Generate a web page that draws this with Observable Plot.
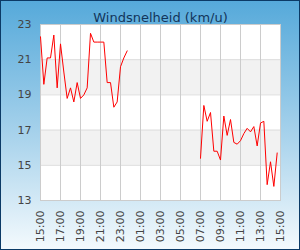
<!DOCTYPE html>
<html>
<head>
<meta charset="utf-8">
<script src="https://cdn.jsdelivr.net/npm/d3@7"></script>
<script src="https://cdn.jsdelivr.net/npm/@observablehq/plot@0.6"></script>
<style>
  html, body { margin: 0; padding: 0; }
  #wrap { position: relative; width: 300px; height: 250px; overflow: hidden;
    background: linear-gradient(to bottom, #55a9da 0%, #a9d3ec 55%, #f4fafd 100%); }
  #wrap svg { position: absolute; left: 0; top: 0; background: transparent; }
  #edge { position: absolute; left: 0; top: 0; width: 300px; height: 250px;
    box-sizing: border-box; border: 1px solid #0b3a66; pointer-events: none; }
</style>
</head>
<body>
<div id="wrap"><div id="edge"></div></div>
<script>
const title = "Windsnelheid (km/u)";
const xTickLabels = ["15:00","17:00","19:00","21:00","23:00","01:00","03:00","05:00","07:00","09:00","11:00","13:00","15:00"];
const yTicks = [13, 15, 17, 19, 21, 23];
const bandLow = [15, 19];
const bandHigh = [17, 21];

// readings every 20 minutes
const seg1Start = "2024-01-01T15:00Z";
const seg1Values = [22.3, 19.6, 21.1, 21.1, 22.4, 19.4, 21.9, 20.3, 18.8, 19.4,
  18.6, 19.7, 18.8, 19.0, 19.4, 22.5, 22.0, 22.0, 22.0, 22.0,
  19.7, 19.7, 18.3, 18.6, 20.6, 21.1, 21.5];
const seg2Start = "2024-01-02T07:00Z";
const seg2Values = [15.4, 18.4, 17.5, 18.0, 15.8, 15.8, 15.3, 17.8, 16.7, 17.6,
  16.3, 16.2, 16.4, 16.8, 17.1, 16.9, 17.2, 16.1, 17.4, 17.5,
  13.9, 15.2, 13.8, 15.7];

const step = 20 * 60 * 1000;
const rows = [];
[[seg1Start, seg1Values, 1], [seg2Start, seg2Values, 2]].forEach(([s, vals, seg]) => {
  const t0 = new Date(s).getTime();
  vals.forEach((v, i) => rows.push({t: new Date(t0 + i * step), v, seg}));
});

const domainStart = new Date("2024-01-01T15:00Z");
const tickDates = xTickLabels.map((_, i) => new Date(domainStart.getTime() + i * 2 * 3600 * 1000));
const bands = bandLow.map((lo, i) => ({lo, hi: bandHigh[i]}));
const fmt = d3.utcFormat("%H:%M");

const chart = Plot.plot({
  width: 300,
  height: 250,
  marginLeft: 40,
  marginRight: 20,
  marginTop: 24,
  marginBottom: 50,
  style: {fontFamily: "DejaVu Sans", fontSize: "11px", background: "transparent"},
  x: {type: "utc", domain: [tickDates[0], tickDates[tickDates.length - 1]]},
  y: {domain: [13, 23]},
  marks: [
    Plot.frame({fill: "white"}),
    Plot.rect(bands, {y1: "lo", y2: "hi", fill: "#f2f2f2"}),
    Plot.ruleY(yTicks, {stroke: "#dddddd"}),
    Plot.ruleX(tickDates, {stroke: "#cccccc"}),
    Plot.frame({stroke: "#cccccc"}),
    Plot.line(rows, {x: "t", y: "v", z: "seg", stroke: "#ff0000", strokeWidth: 1}),
    Plot.axisY(yTicks, {tickSize: 0, tickPadding: 9, fill: "#444", label: null}),
    Plot.axisX(tickDates, {tickSize: 0, tickPadding: 10, tickRotate: -90, fill: "#444",
      tickFormat: (d, i) => xTickLabels[i] ?? fmt(d), label: null}),
    Plot.text([title], {frameAnchor: "top", dy: -12, fontSize: 13, fill: "#12355a"})
  ]
});
document.getElementById("wrap").insertBefore(chart, document.getElementById("edge"));
</script>
</body>
</html>
